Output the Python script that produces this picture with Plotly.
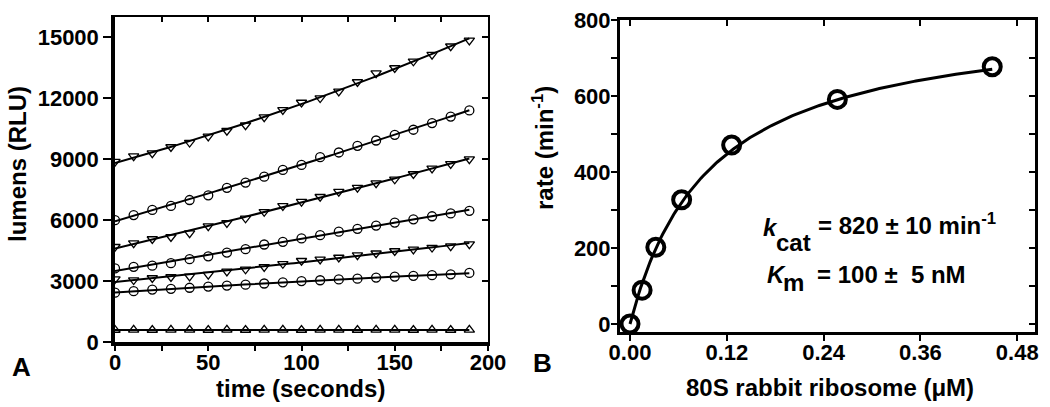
import numpy as np
import plotly.graph_objects as go

# ---------------- data ----------------
time_s = [0, 10, 20, 30, 40, 50, 60, 70, 80, 90, 100, 110, 120, 130, 140, 150, 160, 170, 180, 190]
lum_1 = [8880, 9150, 9300, 9600, 9820, 10120, 10400, 10670, 11070, 11430, 11790, 12010, 12340, 12800, 13240, 13490, 13820, 14150, 14560, 14850]
lum_2 = [6000, 6250, 6500, 6700, 6990, 7220, 7590, 7850, 8140, 8470, 8720, 9100, 9330, 9660, 9920, 10200, 10450, 10780, 11100, 11400]
lum_3 = [4690, 4870, 5070, 5170, 5360, 5700, 5860, 6090, 6410, 6700, 6910, 7150, 7400, 7600, 7820, 8010, 8270, 8550, 8770, 9000]
lum_4 = [3620, 3700, 3760, 3880, 4080, 4220, 4400, 4570, 4800, 4930, 5100, 5260, 5430, 5570, 5730, 5880, 6040, 6190, 6330, 6460]
lum_5 = [3100, 3050, 3150, 3200, 3230, 3320, 3480, 3580, 3700, 3850, 4000, 4070, 4160, 4280, 4370, 4480, 4560, 4650, 4720, 4820]
lum_6 = [2430, 2500, 2580, 2620, 2670, 2730, 2780, 2820, 2880, 2940, 3000, 3040, 3080, 3120, 3170, 3220, 3260, 3290, 3330, 3400]
lum_7 = [590, 600, 590, 600, 600, 590, 600, 590, 600, 600, 590, 600, 600, 590, 600, 600, 590, 600, 590, 600]
lum_series = [lum_1, lum_2, lum_3, lum_4, lum_5, lum_6, lum_7]
lum_symbols = ["triangle-down-open", "circle-open", "triangle-down-open", "circle-open",
               "triangle-down-open", "circle-open", "triangle-up-open"]

ribosome_uM = [0.0, 0.015, 0.032, 0.064, 0.126, 0.257, 0.449]
rate_per_min = [0, 89, 202, 327, 471, 591, 677]
KCAT = 820.0      # min^-1 (fit)
KM_UM = 0.100     # uM (fit)

x_ticks_A = [0, 50, 100, 150, 200]
y_ticks_A = [0, 3000, 6000, 9000, 12000, 15000]
y_ticklabels_A = ["0", "3000", "6000", "9000", "12000", "15000"]
x_ticks_B = [0.0, 0.12, 0.24, 0.36, 0.48]
x_ticklabels_B = ["0.00", "0.12", "0.24", "0.36", "0.48"]
y_ticks_B = [0, 200, 400, 600, 800]

# ---------------- layout helpers ----------------
W, H = 1050, 407
FONT = "Liberation Sans, Arial, Helvetica, sans-serif"
BLACK = "#000000"

def px(x):
    return x / W

def py(y):
    return 1 - y / H

fig = go.Figure()

# Panel A: fits then markers
t_fine = np.linspace(min(time_s), max(time_s), 100)
for ys, sym in zip(lum_series, lum_symbols):
    coef = np.polyfit(time_s, ys, 2)
    fig.add_trace(go.Scatter(x=t_fine, y=np.polyval(coef, t_fine), mode="lines",
                             line=dict(color=BLACK, width=2), xaxis="x", yaxis="y",
                             showlegend=False, hoverinfo="skip"))
    fig.add_trace(go.Scatter(x=time_s, y=ys, mode="markers",
                             marker=dict(symbol=sym, size=9, color=BLACK,
                                         line=dict(color=BLACK, width=1.3)),
                             xaxis="x", yaxis="y", showlegend=False))

# Panel B: Michaelis-Menten fit and points
c_fine = np.linspace(0, max(ribosome_uM), 200)
fig.add_trace(go.Scatter(x=c_fine, y=KCAT * c_fine / (KM_UM + c_fine), mode="lines",
                         line=dict(color=BLACK, width=3), xaxis="x2", yaxis="y2",
                         showlegend=False, hoverinfo="skip"))
fig.add_trace(go.Scatter(x=ribosome_uM, y=rate_per_min, mode="markers",
                         marker=dict(symbol="circle-open", size=17, color=BLACK,
                                     line=dict(color=BLACK, width=4)),
                         xaxis="x2", yaxis="y2", showlegend=False, cliponaxis=False))

# empty traces to register mirror-tick overlay axes
for xa, ya in [("x3", "y"), ("x", "y3"), ("x4", "y2"), ("x2", "y4")]:
    fig.add_trace(go.Scatter(x=[], y=[], xaxis=xa, yaxis=ya, showlegend=False, hoverinfo="skip"))

domA_x = [px(115), px(488)]
domA_y = [py(342), py(17)]
domB_x = [px(620), px(1035)]
domB_y = [py(332), py(20)]

tickfont = dict(family=FONT, size=22, color=BLACK, weight="bold")
common = dict(showgrid=False, zeroline=False, tickcolor=BLACK, tickwidth=2, tickfont=tickfont,
              automargin=False)

xA_range = [0, 200]
yA_range = [0, 16000]
xB_range = [-0.0124, 0.502]
yB_range = [-21, 800]

fig.update_layout(
    template="none",
    width=W, height=H,
    margin=dict(l=0, r=0, t=0, b=0, pad=0),
    paper_bgcolor="white", plot_bgcolor="white",
    font=dict(family=FONT, color=BLACK),
    xaxis=dict(domain=domA_x, anchor="y", range=xA_range, tickvals=x_ticks_A,
               ticks="outside", ticklen=5, showline=True, linewidth=3.5, linecolor=BLACK,
               mirror=False, ticklabelstandoff=-7,
               minor=dict(dtick=25, ticks="outside", ticklen=5, tickwidth=2, tickcolor=BLACK),
               **common),
    yaxis=dict(domain=domA_y, anchor="x", range=yA_range, tickvals=y_ticks_A,
               ticktext=y_ticklabels_A,
               ticks="outside", ticklen=8, showline=True, linewidth=3.5, linecolor=BLACK,
               mirror=False, ticklabelstandoff=0, **common),
    xaxis3=dict(overlaying="x", anchor="y", side="top", range=xA_range,
                tickvals=list(range(0, 201, 25)), ticks="inside", ticklen=5,
                showticklabels=False, showline=True, linewidth=2, linecolor=BLACK, **common),
    yaxis3=dict(overlaying="y", anchor="x", side="right", range=yA_range,
                tickvals=y_ticks_A, ticks="inside", ticklen=6,
                showticklabels=False, showline=True, linewidth=2, linecolor=BLACK, **common),
    xaxis2=dict(domain=domB_x, anchor="y2", range=xB_range, tickvals=x_ticks_B,
                ticktext=x_ticklabels_B, ticks="outside", ticklen=6, showline=True,
                linewidth=3, linecolor=BLACK, mirror=True, ticklabelstandoff=-7, **common),
    yaxis2=dict(domain=domB_y, anchor="x2", range=yB_range, tickvals=y_ticks_B,
                ticks="outside", ticklen=6, showline=True, linewidth=3, linecolor=BLACK,
                mirror=True, ticklabelstandoff=-4,
                minor=dict(dtick=100, ticks="outside", ticklen=6, tickwidth=2, tickcolor=BLACK),
                **common),
    xaxis4=dict(overlaying="x2", anchor="y2", side="top", range=xB_range,
                tickvals=x_ticks_B, ticks="inside", ticklen=6,
                showticklabels=False, showline=False, **common),
    yaxis4=dict(overlaying="y2", anchor="x2", side="right", range=yB_range,
                tickvals=list(range(0, 801, 100)), ticks="inside", ticklen=6,
                showticklabels=False, showline=False, **common),
)

def ann(text, x, y, size, xanchor="center", yanchor="middle", angle=0, italic=False):
    fig.add_annotation(text=text, x=px(x), y=py(y), xref="paper", yref="paper",
                       xanchor=xanchor, yanchor=yanchor, textangle=angle, showarrow=False,
                       font=dict(family=FONT, size=size, color=BLACK, weight="bold",
                                 style="italic" if italic else "normal"))

# axis titles
ann("time (seconds)", 300, 388, 24)
ann("lumens (RLU)", 17, 164, 24, angle=-90)
ann("80S rabbit ribosome (μM)", 830, 387, 24)
ann("rate (min<sup>-1</sup>)", 543, 148, 24, angle=-90)
# panel letters
ann("A", 21, 367, 26)
ann("B", 542, 363, 26)
# fit results
ann("k", 761, 227, 24, xanchor="left", italic=True)
ann("cat", 774, 242, 24, xanchor="left")
ann("= 820 ± 10 min<sup>-1</sup>", 816, 224, 24, xanchor="left")
ann("K", 765, 274, 24, xanchor="left", italic=True)
ann("m", 781, 282, 24, xanchor="left")
ann("= 100 ±\u00a0 5 nM", 815, 274, 24, xanchor="left")

fig.write_html("out.html", config={"displayModeBar": False},
               post_script="document.body.style.margin='0px';")
